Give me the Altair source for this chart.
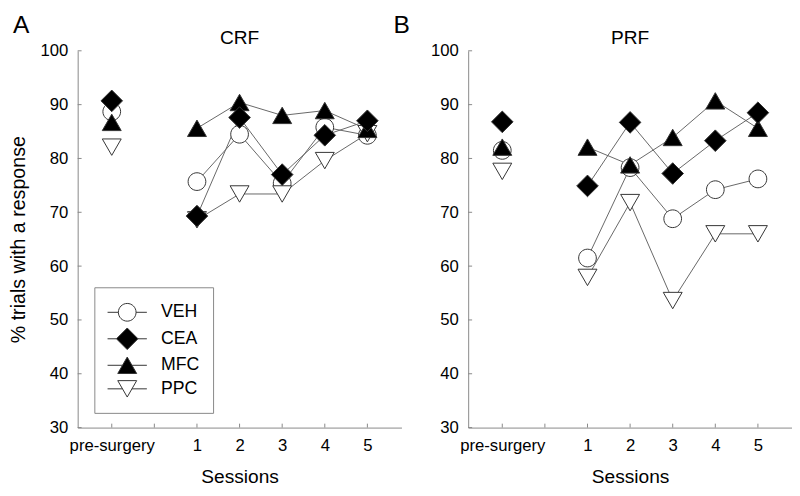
import altair as alt
import pandas as pd

# ---------------- data ----------------
session_labels = ["pre-surgery", "1", "2", "3", "4", "5"]
session_pos = [0, 2, 3, 4, 5, 6]
groups = ["VEH", "CEA", "MFC", "PPC"]
draw_order = ["VEH", "PPC", "MFC", "CEA"]

crf_veh = [88.7, 75.7, 84.5, 75.4, 85.8, 84.3]
crf_cea = [90.7, 69.3, 87.6, 77.0, 84.3, 87.0]
crf_mfc = [86.7, 85.6, 90.4, 88.0, 88.9, 85.4]
crf_ppc = [82.1, 68.6, 73.4, 73.4, 79.6, 84.6]

prf_veh = [81.5, 61.5, 78.3, 68.8, 74.2, 76.2]
prf_cea = [86.8, 74.9, 86.7, 77.2, 83.3, 88.5]
prf_mfc = [82.1, 82.1, 78.8, 83.9, 90.7, 85.6]
prf_ppc = [77.6, 57.9, 71.8, 53.6, 66.0, 66.0]

panel_titles = ["CRF", "PRF"]
panel_letters = ["A", "B"]
y_ticks = [30, 40, 50, 60, 70, 80, 90, 100]
x_ticks = [0, 1, 2, 3, 4, 5, 6]

FONT = "Liberation Sans"
W, H = 330, 384
SYM = 484  # symbol size -> unit = 11 px

# marker shapes (unit = 11 px): circle, diamond, triangle-up, triangle-down
shape_range = [
    "M-0.82,0A0.82,0.82,0,1,0,0.82,0A0.82,0.82,0,1,0,-0.82,0Z",
    "M-1,0L0,-1L1,0L0,1Z",
    "M0,-0.76L-0.877,0.76L0.877,0.76Z",
    "M0,0.76L-0.877,-0.76L0.877,-0.76Z",
]
# legend symbols: same markers with a short line through them
legend_paths = [
    "M-1.82,0L-0.82,0M0.82,0L1.82,0M-0.82,0A0.82,0.82,0,1,0,0.82,0A0.82,0.82,0,1,0,-0.82,0Z",
    "M-1.82,0L-1,0M1,0L1.82,0M-1,0L0,-1L1,0L0,1Z",
    "M-1.82,0L-0.44,0M0.44,0L1.82,0M0,-0.76L-0.877,0.76L0.877,0.76Z",
    "M-1.82,0L-0.44,0M0.44,0L1.82,0M0,0.76L-0.877,-0.76L0.877,-0.76Z",
]
fill_range = ["white", "black", "black", "white"]
stroke_range = ["#333333", "#333333", "#333333", "#333333"]


def make_df(series):
    rows = []
    for g in draw_order:
        for lab, pos, v in zip(session_labels, session_pos, series[g]):
            rows.append(dict(group=g, session=lab, x=pos, value=v))
    return pd.DataFrame(rows)


crf = make_df({"VEH": crf_veh, "CEA": crf_cea, "MFC": crf_mfc, "PPC": crf_ppc})
prf = make_df({"VEH": prf_veh, "CEA": prf_cea, "MFC": prf_mfc, "PPC": prf_ppc})

label_expr = ("datum.value == 0 ? 'pre-surgery' : datum.value == 1 ? '' : "
              "'' + (datum.value - 1)")

x_scale = alt.Scale(domain=[-0.8, 6.8], nice=False, zero=False)
y_scale = alt.Scale(domain=[30, 100], nice=False, zero=False)


def text_layer(txt, size, x, y, align):
    return alt.Chart(pd.DataFrame({"t": [txt]})).mark_text(
        font=FONT, fontSize=size, align=align, baseline="alphabetic", color="black"
    ).encode(text="t:N", x=alt.value(x), y=alt.value(y))


def panel(df, title, letters, show_legend, show_ytitle):
    base = alt.Chart(df)
    lines = base.transform_filter("datum.x >= 2").mark_line(
        color="#666666", strokeWidth=1
    ).encode(
        x=alt.X("x:Q", scale=x_scale,
                axis=alt.Axis(values=x_ticks, labelExpr=label_expr, title="Sessions",
                              ticks=False, labelPadding=10, titlePadding=15,
                              domainColor="#888888", grid=False,
                              labelFont=FONT, labelFontSize=17, labelColor="black",
                              titleFont=FONT, titleFontSize=19.5, titleFontWeight="normal",
                              titleColor="black")),
        y=alt.Y("value:Q", scale=y_scale,
                axis=alt.Axis(values=y_ticks, title="% trials with a response" if show_ytitle else None,
                              ticks=False, labelPadding=10, titlePadding=12,
                              domainColor="#888888", grid=False,
                              labelFont=FONT, labelFontSize=17, labelColor="black",
                              titleFont=FONT, titleFontSize=20, titleFontWeight="normal",
                              titleColor="black")),
        detail="group:N",
    )
    pts = base.mark_point(filled=False, stroke="#333333", strokeWidth=1, opacity=1,
                          size=SYM).encode(
        x=alt.X("x:Q", scale=x_scale),
        y=alt.Y("value:Q", scale=y_scale),
        shape=alt.Shape("group:N", scale=alt.Scale(domain=groups, range=shape_range), legend=None),
        fill=alt.Fill("group:N", scale=alt.Scale(domain=groups, range=fill_range), legend=None),
    )
    yt = alt.Chart(pd.DataFrame({"v": y_ticks})).mark_rule(color="#888888").encode(
        y=alt.Y("v:Q", scale=y_scale), x=alt.value(0), x2=alt.value(4))
    xt = alt.Chart(pd.DataFrame({"v": x_ticks})).mark_rule(color="#888888").encode(
        x=alt.X("v:Q", scale=x_scale), y=alt.value(H), y2=alt.value(H - 4))
    layers = [lines, yt, xt, pts]
    if show_legend:
        leg = alt.Legend(
            title=None, orient="none", legendX=17, legendY=241,
            strokeColor="#888888", fillColor="white", padding=14,
            labelFont=FONT, labelFontSize=18, labelColor="black",
            labelOffset=23, symbolOffset=8, rowPadding=2,
            labelExpr="datum.label + '\u00a0'",
            symbolSize=SYM, symbolStrokeWidth=1,
        )
        legend_layer = base.transform_filter("datum.x < -100").mark_point(
            filled=False, strokeWidth=1, opacity=1, size=SYM
        ).encode(
            x=alt.X("x:Q", scale=x_scale),
            y=alt.Y("value:Q", scale=y_scale),
            shape=alt.Shape("group:N", scale=alt.Scale(domain=groups, range=legend_paths), legend=leg),
            fill=alt.Fill("group:N", scale=alt.Scale(domain=groups, range=fill_range), legend=leg),
            stroke=alt.Stroke("group:N", scale=alt.Scale(domain=groups, range=stroke_range), legend=leg),
        )
        layers.append(legend_layer)
    layers.append(text_layer(title, 19.5, W / 2, -7, "center"))
    for lt, lx in letters:
        layers.append(text_layer(lt, 25, lx, -18, "left"))
    return alt.layer(*layers).resolve_scale(
        shape="independent", fill="independent", stroke="independent"
    ).properties(width=W, height=H)


left = panel(crf, panel_titles[0], [(panel_letters[0], -66), (panel_letters[1], 322)], True, True)
right = panel(prf, panel_titles[1], [], False, False)

chart = alt.hconcat(left, right, spacing=20).resolve_scale(
    shape="independent", fill="independent", stroke="independent"
).properties(
    padding={"left": 0, "top": 1, "right": 0, "bottom": 0}
).configure_view(stroke=None)

chart.save("out.html", embed_options={"renderer": "svg", "actions": False})
